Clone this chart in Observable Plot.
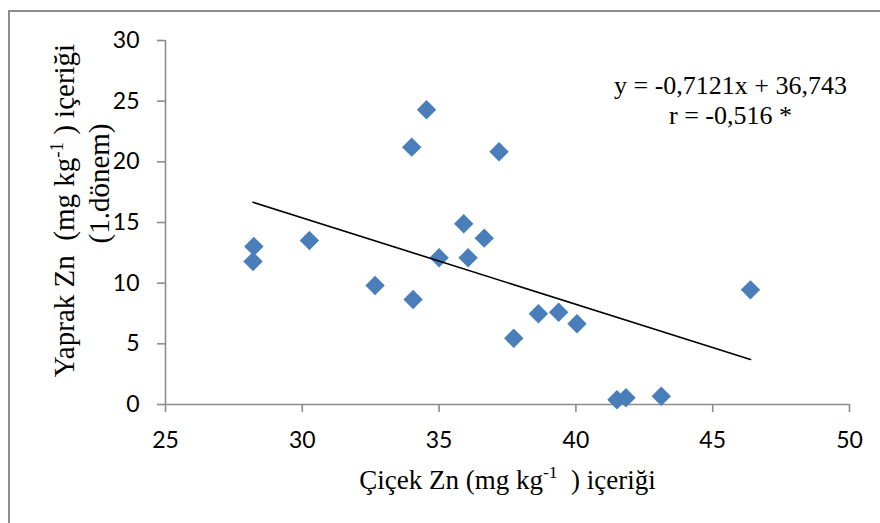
<!DOCTYPE html>
<html>
<head>
<meta charset="utf-8">
<script src="https://cdn.jsdelivr.net/npm/d3@7"></script>
<script src="https://cdn.jsdelivr.net/npm/@observablehq/plot@0.6"></script>
<style>
  body { margin: 0; background: #fff; }
  #wrap { position: relative; width: 880px; height: 523px; overflow: hidden; background: #fff; }
  #border { position: absolute; left: 8px; top: 10px; width: 900px; height: 600px;
            border-left: 2px solid #8c8c8c; border-top: 2px solid #8c8c8c; }
  #wrap svg { position: absolute; left: 0; top: 0; }
  svg text { white-space: pre; }
</style>
</head>
<body>
<div id="wrap"><div id="border"></div></div>
<script>
// ---- data ----
const xValues = [28.23, 28.20, 30.26, 32.66, 34.00, 34.05, 34.54, 35.00, 35.90, 36.06,
                 36.65, 37.19, 37.73, 38.63, 39.37, 40.04, 41.50, 41.83, 43.12, 46.38];
const yValues = [13.02, 11.79, 13.52, 9.81, 21.21, 8.65, 24.29, 12.09, 14.89, 12.09,
                 13.71, 20.83, 5.46, 7.48, 7.61, 6.65, 0.39, 0.55, 0.68, 9.45];
const slope = -0.7121;
const intercept = 36.743;
const xTicks = [25, 30, 35, 40, 45, 50];
const yTicks = [0, 5, 10, 15, 20, 25, 30];
const xTitle = ["Çiçek Zn (mg kg-1  ) içeriği"];
const yTitleLine1 = ["Yaprak Zn  (mg kg-1 ) içeriği"];
const yTitleLine2 = ["(1.dönem)"];
const equationLines = ["y = -0,7121x + 36,743", "r = -0,516 *"];

// ---- derived tables ----
const points = xValues.map((x, i) => ({x, y: yValues[i]}));
const xExtent = d3.extent(xValues);
const trend = xExtent.map(x => ({x, y: slope * x + intercept}));

const axisColor = "#8c8c8c";
const diamond = {
  draw(ctx, size) {
    const r = Math.sqrt(size / 2);
    ctx.moveTo(0, -r); ctx.lineTo(r, 0); ctx.lineTo(0, r); ctx.lineTo(-r, 0); ctx.closePath();
  }
};

const chart = Plot.plot({
  width: 880,
  height: 523,
  marginLeft: 165,
  marginRight: 31,
  marginTop: 40,
  marginBottom: 119,
  style: {background: "transparent", color: "#000"},
  x: {domain: [25, 50]},
  y: {domain: [0, 30]},
  marks: [
    Plot.ruleY([0], {stroke: axisColor, strokeWidth: 1.6}),
    Plot.ruleX([25], {stroke: axisColor, strokeWidth: 1.6}),
    Plot.axisX(xTicks, {tickSize: 8, tickPadding: 19, stroke: axisColor, strokeWidth: 1.6,
      fill: "#000", fontSize: 23, fontFamily: "Lato", label: null}),
    Plot.axisY(yTicks, {tickSize: 8, tickPadding: 18, stroke: axisColor, strokeWidth: 1.6,
      fill: "#000", fontSize: 23, fontFamily: "Lato", label: null}),
    Plot.dot(points, {x: "x", y: "y", symbol: diamond, r: 7.75, fill: "#4a7ebb", stroke: "none"}),
    Plot.line(trend, {x: "x", y: "y", stroke: "#000", strokeWidth: 1.6}),
    Plot.text([equationLines.join("\n")], {frameAnchor: "top-right", textAnchor: "middle",
      lineAnchor: "bottom", lineHeight: 30 / 26, dx: -119, dy: 83,
      fontFamily: "Liberation Serif", fontSize: 26, fill: "#000"}),
    Plot.text(xTitle, {frameAnchor: "bottom", textAnchor: "middle", lineAnchor: "bottom", dy: 84,
      fontFamily: "Liberation Serif", fontSize: 27, fill: "#000"}),
    Plot.text(yTitleLine1, {frameAnchor: "left", textAnchor: "middle", lineAnchor: "bottom",
      rotate: -90, dx: -92, dy: -12,
      fontFamily: "Liberation Serif", fontSize: 29, fill: "#000"}),
    Plot.text(yTitleLine2, {frameAnchor: "left", textAnchor: "middle", lineAnchor: "bottom",
      rotate: -90, dx: -57, dy: -39,
      fontFamily: "Liberation Serif", fontSize: 29, fill: "#000"})
  ]
});

document.getElementById("wrap").appendChild(chart);

// superscript "-1" after "kg"
const ns = "http://www.w3.org/2000/svg";
chart.querySelectorAll("text").forEach(t => {
  const targets = t.children.length ? Array.from(t.querySelectorAll("tspan")) : [t];
  targets.forEach(el => {
    const s = el.textContent;
    const k = s.indexOf("kg-1");
    if (k < 0) return;
    const fs = parseFloat(getComputedStyle(el).fontSize);
    el.textContent = s.slice(0, k + 2);
    const sup = document.createElementNS(ns, "tspan");
    sup.setAttribute("dy", (-0.38 * fs).toFixed(1));
    sup.setAttribute("font-size", (0.65 * fs).toFixed(1));
    sup.textContent = "-1";
    const rest = document.createElementNS(ns, "tspan");
    rest.setAttribute("dy", (0.38 * fs).toFixed(1));
    rest.textContent = s.slice(k + 4);
    el.append(sup, rest);
  });
});
</script>
</body>
</html>
